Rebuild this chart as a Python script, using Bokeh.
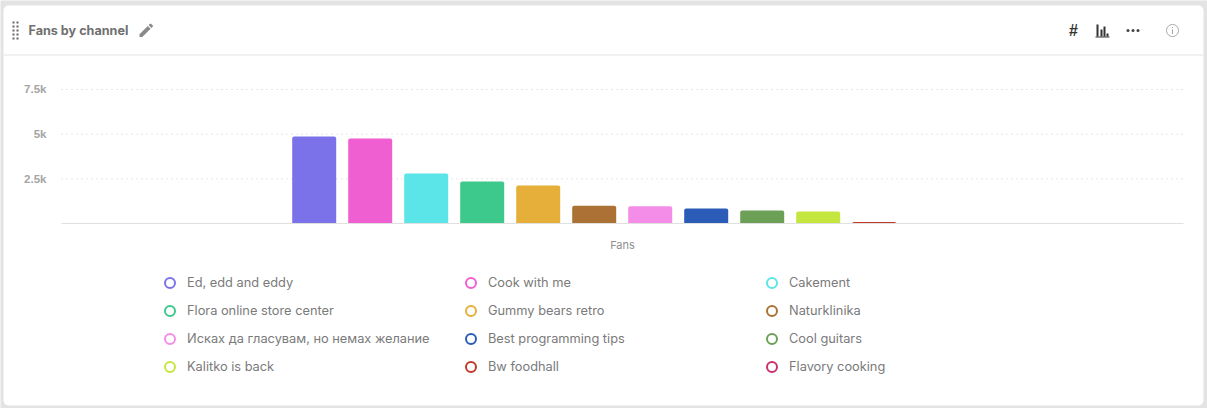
import math
from bokeh.plotting import figure
from bokeh.embed import file_html
from bokeh.resources import INLINE
from bokeh.models import (ColumnDataSource, Range1d, FixedTicker, BoxAnnotation,
                          PolyAnnotation, Label, Legend, LegendItem)

TITLE = "Fans by channel"
AXIS_TITLE = "Fans"
categories = ["Ed, edd and eddy", "Cook with me", "Cakement", "Flora online store center",
              "Gummy bears retro", "Naturklinika", "Исках да гласувам, но немах желание",
              "Best programming tips", "Cool guitars", "Kalitko is back", "Bw foodhall", "Flavory cooking"]
fans = [4870, 4760, 2800, 2350, 2130, 1000, 960, 840, 730, 670, 90, 25]
bar_colors = ["#7b72e9", "#f05fd2", "#5ce5e8", "#3dc98b", "#e6af3a", "#ab7135",
              "#f48de8", "#2a5cb8", "#6da057", "#c5e63f", "#c0392b", "#c9306f"]
tick_values = [2500, 5000, 7500]
tick_labels = {2500: "2.5k", 5000: "5k", 7500: "7.5k"}

W, H = 1207, 408
STEP = 56.0          # px per category
X0_PX = 313.7        # px of first bar centre
BASE_PX = 223.0      # px of y = 0
Y_PER_PX = 2500 / 44.67
dx = lambda px: (px - X0_PX) / STEP
PLOT_L, PLOT_R = dx(61), dx(1183)

source = ColumnDataSource(dict(i=list(range(len(categories))), cat=categories, fans=fans, color=bar_colors,
                               nan=[float("nan")] * len(categories)))

p = figure(width=W, height=H, output_backend="svg", toolbar_location=None,
           x_range=Range1d(dx(0), dx(W)),
           y_range=Range1d(-(H - BASE_PX) * Y_PER_PX, BASE_PX * Y_PER_PX),
           min_border_left=0, min_border_right=0, min_border_top=0, min_border_bottom=0)
p.border_fill_color = "#e3e3e3"
p.background_fill_color = "#e3e3e3"
p.outline_line_color = None


def box(l, t, r, b, color, radius=0, level="underlay"):
    p.add_layout(BoxAnnotation(left=l, right=r, top=t, bottom=b, left_units="canvas", right_units="canvas",
                               top_units="canvas", bottom_units="canvas", fill_color=color, fill_alpha=1,
                               line_alpha=0, border_radius=radius, level=level))


def poly(xs, ys, fill, line=None, width=1):
    p.add_layout(PolyAnnotation(xs=xs, ys=ys, xs_units="canvas", ys_units="canvas", fill_color=fill,
                                fill_alpha=1 if fill else 0, line_color=line, line_alpha=1, line_width=width,
                                level="overlay"))


box(3, 5, 1203, 405, "#ffffff", radius=5, level="image")
box(3, 54, 1203, 55, "#e3e3e3")

# header
for l in (12, 16):
    for i in range(5):
        box(l, 21 + i * 4, l + 2, 23 + i * 4, "#666666")
p.add_layout(Label(x=28, y=29.5, x_units="canvas", y_units="canvas", text=TITLE, text_font="Inter",
                   text_font_size="12.6px", text_font_style="bold", text_color="#707070",
                   text_baseline="middle"))
sx = lambda v: 136.75 + v * 0.75
sy = lambda v: 20.75 + v * 0.75
poly([sx(v) for v in (3, 3, 6.75, 17.81, 14.06)], [sy(v) for v in (17.25, 21, 21, 9.94, 6.19)], "#8a8a8a")
poly([sx(v) for v in (20.71, 20.71, 18.37, 16.96, 15.13, 18.88)],
     [sy(v) for v in (7.04, 5.63, 3.29, 3.29, 5.12, 8.87)], "#8a8a8a")
p.add_layout(Label(x=1073, y=29.5, x_units="canvas", y_units="canvas", text="#", text_font="Liberation Sans",
                   text_font_size="16px", text_font_style="bold", text_color="#333333",
                   text_align="center", text_baseline="middle"))
box(1095, 36, 1109, 37, "#333333")
for l, t in ((1096, 24), (1100, 29), (1103, 26), (1106, 33)):
    box(l, t, l + 2, 36, "#333333")
for cx in (1127.5, 1132.5, 1137.5):
    box(cx - 1.5, 28.5, cx + 1.5, 31.5, "#444444", radius=2)
n = 48
poly([1172 + 6 * math.cos(2 * math.pi * i / n) for i in range(n)],
     [30 + 6 * math.sin(2 * math.pi * i / n) for i in range(n)], None, "#a0a0a0", 1)
box(1171.5, 29, 1172.5, 33.5, "#a0a0a0")
box(1171.5, 26.5, 1172.5, 27.5, "#a0a0a0")

# grid lines (limited to the plot width)
p.segment(x0=[PLOT_L] * 3, x1=[PLOT_R] * 3, y0=tick_values, y1=tick_values, line_color="#cfcfcf",
          line_width=1, line_dash="1 4", level="underlay")

# bars
p.vbar(x="i", top="fans", width=44 / 56, source=source, color="color", line_alpha=0,
       border_radius=(2, 2, 0, 0))

# axes
p.xgrid.visible = False
p.ygrid.visible = False
p.xaxis.fixed_location = 0
p.xaxis.bounds = (PLOT_L, PLOT_R)
p.xaxis.ticker = FixedTicker(ticks=[])
p.xaxis.axis_label = AXIS_TITLE
p.xaxis.axis_label_text_font = "Inter"
p.xaxis.axis_label_text_font_size = "11px"
p.xaxis.axis_label_text_font_style = "normal"
p.xaxis.axis_label_text_color = "#8f8f8f"
p.xaxis.axis_label_standoff = 14
p.xaxis.major_tick_line_color = None
p.xaxis.minor_tick_line_color = None
p.xaxis.axis_line_color = "#e0e0e0"

p.yaxis.fixed_location = PLOT_L
p.yaxis.ticker = FixedTicker(ticks=tick_values)
p.yaxis.major_label_overrides = tick_labels
p.yaxis.major_label_text_font = "Liberation Sans"
p.yaxis.major_label_text_font_size = "11.5px"
p.yaxis.major_label_text_font_style = "bold"
p.yaxis.major_label_text_color = "#a5a5a5"
p.yaxis.major_label_standoff = 9
p.yaxis.axis_line_color = None
p.yaxis.major_tick_line_color = None
p.yaxis.minor_tick_line_color = None

# legend
markers = p.scatter(x="i", y="nan", source=source, size=10, marker="circle", fill_color="#ffffff",
                    line_color="color", line_width=2)
items = [LegendItem(label=c, renderers=[markers], index=i) for i, c in enumerate(categories)]
legend = Legend(items=items, ncols=3, orientation="horizontal", location=(157, 29), padding=0, margin=0,
                glyph_width=25, glyph_height=25, spacing=3, label_standoff=5, label_width=268, label_height=25,
                label_text_font="Inter", label_text_font_size="12.8px", label_text_color="#7a7a7a",
                border_line_color=None, background_fill_color=None, background_fill_alpha=0)
p.add_layout(legend, "center")

open("out.html", "w").write(file_html(p, INLINE))
